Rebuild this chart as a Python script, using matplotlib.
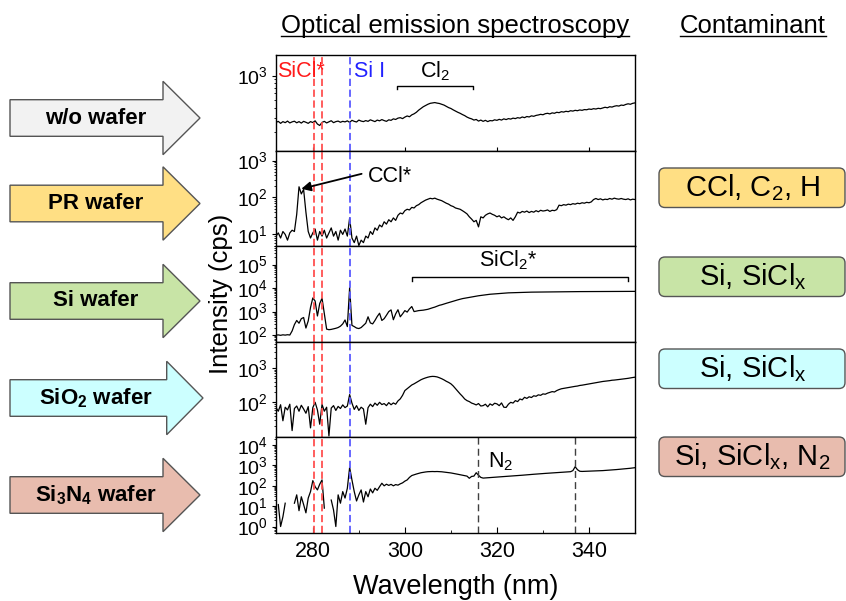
import numpy as np
import matplotlib
matplotlib.use("Agg")
import matplotlib.pyplot as plt
from matplotlib.patches import Polygon, FancyBboxPatch
from matplotlib.ticker import LogLocator, NullFormatter, FixedLocator, MultipleLocator

plt.rcParams['font.family'] = ['Liberation Sans', 'DejaVu Sans']
plt.rcParams['mathtext.fontset'] = 'custom'
plt.rcParams['mathtext.rm'] = 'Liberation Sans'
plt.rcParams['mathtext.it'] = 'Liberation Sans:italic'
plt.rcParams['mathtext.bf'] = 'Liberation Sans:bold'
plt.rcParams['mathtext.default'] = 'regular'

# wavelength grid (nm), 0.5 nm steps, 272 .. 350
wl = np.arange(272.0, 350.01, 0.5)

# intensities (cps), one row = 5 nm
no_wafer = [
    262, 270, 255, 268, 260, 272, 258, 266, 271, 259,
    268, 257, 270, 263, 255, 268, 261, 274, 250, 240,
    262, 270, 258, 266, 275, 260, 268, 272, 263, 270,
    266, 274, 262, 278, 270, 265, 280, 272, 268, 276,
    270, 282, 275, 268, 280, 274, 284, 276, 270, 282,
    278, 290, 285, 296, 300, 292, 305, 315, 308, 325,
    335, 350, 372, 390, 410, 425, 440, 452, 457, 462,
    455, 450, 440, 430, 415, 400, 390, 375, 362, 350,
    340, 328, 318, 305, 296, 290, 280, 285, 272, 280,
    270, 278, 268, 276, 274, 282, 278, 286, 280, 290,
    284, 292, 288, 296, 292, 300, 296, 306, 300, 310,
    306, 316, 312, 320, 324, 330, 326, 336, 340, 334,
    344, 340, 350, 346, 356, 352, 360, 356, 366, 362,
    370, 366, 374, 370, 378, 376, 384, 380, 388, 384,
    392, 388, 396, 404, 398, 410, 406, 416, 422, 418,
    430, 426, 438, 446, 440, 452, 458,
]

pr_wafer = [
    9, 11, 8, 12, 10, 7, 11, 13, 12, 35,
    195, 125, 165, 40, 12, 8, 11, 14, 7, 12,
    9, 13, 8, 11, 15, 9, 12, 7, 13, 10,
    14, 9, 28, 8, 6, 9, 5, 7, 6, 9,
    8, 12, 10, 15, 13, 18, 16, 22, 19, 25,
    22, 28, 24, 33, 38, 36, 44, 48, 46, 54,
    52, 60, 64, 72, 78, 85, 90, 95, 92, 96,
    90, 86, 82, 76, 70, 66, 60, 57, 52, 50,
    48, 44, 40, 36, 30, 26, 22, 24, 16, 30,
    28, 33, 36, 38, 35, 33, 30, 32, 28, 30,
    27, 25, 28, 24, 30, 40, 38, 42, 40, 43,
    39, 42, 40, 44, 41, 45, 43, 44, 46, 42,
    45, 44, 47, 62, 60, 64, 62, 66, 64, 68,
    66, 70, 68, 72, 70, 74, 72, 76, 88, 94,
    88, 92, 86, 90, 88, 94, 90, 96, 92, 90,
    94, 90, 88, 92, 86, 90, 88,
]

si_wafer = [
    100, 102, 98, 103, 100, 104, 101, 150, 280, 420,
    320, 500, 560, 200, 400, 1500, 3800, 2800, 650, 2200,
    3700, 800, 180, 170, 175, 185, 195, 210, 240, 300,
    440, 230, 10500, 260, 230, 200, 190, 210, 260, 320,
    600, 330, 300, 420, 620, 850, 420, 500, 700, 1000,
    1180, 450, 800, 1200, 600, 800, 1100, 950, 1300, 1640,
    1000, 1050, 1100, 1120, 1150, 1200, 1250, 1350, 1450, 1550,
    1700, 1850, 1950, 2100, 2250, 2400, 2550, 2750, 2950, 3150,
    3350, 3550, 3700, 3850, 4050, 4200, 4400, 4550, 4700, 4850,
    5000, 5150, 5300, 5450, 5550, 5700, 5800, 5900, 6000, 6100,
    6150, 6250, 6300, 6350, 6400, 6450, 6500, 6550, 6600, 6620,
    6650, 6700, 6720, 6750, 6780, 6800, 6830, 6850, 6870, 6880,
    6900, 6920, 6940, 6950, 6960, 6980, 7000, 7010, 7020, 7030,
    7040, 7050, 7060, 7070, 7080, 7090, 7100, 7100, 7110, 7120,
    7120, 7130, 7140, 7140, 7150, 7160, 7160, 7170, 7180, 7180,
    7190, 7190, 7200, 7200, 7210, 7210, 7220,
]

sio2_wafer = [
    70, 55, 85, 29, 72, 60, 88, 15, 66, 78,
    55, 82, 64, 48, 75, 18, 70, 100, 60, 23,
    87, 55, 72, 10.5, 68, 80, 58, 76, 66, 84,
    70, 78, 168, 95, 62, 80, 58, 72, 64, 23,
    70, 88, 75, 95, 82, 100, 86, 92, 80, 98,
    85, 96, 88, 110, 126, 160, 220, 250, 285, 320,
    346, 380, 420, 455, 487, 515, 540, 560, 570, 565,
    550, 520, 487, 450, 410, 380, 346, 300, 250, 210,
    176, 150, 125, 112, 105, 95, 90, 84, 92, 78,
    80, 88, 74, 90, 82, 94, 90, 80, 96, 72,
    71, 88, 100, 95, 112, 105, 125, 118, 140, 130,
    145, 138, 155, 150, 165, 160, 176, 172, 185, 195,
    205, 200, 220, 235, 248, 255, 262, 270, 278, 285,
    292, 298, 310, 316, 325, 332, 345, 352, 365, 375,
    387, 395, 405, 412, 420, 428, 440, 445, 455, 462,
    470, 478, 490, 500, 515, 528, 540,
]

nan = np.nan
si3n4_wafer = [
    nan, 12, 1, 3, 14, nan, 9.5, nan, 14, 36,
    6, 29, 12, 4.7, 25, 52, 180, 90, 63, 120,
    195, 8, nan, nan, 20, 6.5, 1, 36, 14, 52,
    25, 76, 810, 195, 52, 18, 36, 63, 16, 52,
    29, 70, 45, 76, 60, 91, 134, 100, 120, 105,
    118, 100, 115, 108, 125, 140, 170, 195, 260, 320,
    350, 380, 410, 440, 460, 480, 495, 500, 505, 500,
    505, 498, 490, 475, 460, 445, 430, 410, 390, 370,
    350, 330, 315, 300, 235, 290, 300, 440, 330, 260,
    240, 245, 250, 255, 260, 265, 270, 275, 280, 285,
    290, 295, 300, 305, 310, 318, 325, 332, 340, 348,
    355, 362, 370, 378, 385, 392, 400, 408, 415, 422,
    430, 436, 442, 448, 455, 462, 470, 480, 495, 560,
    870, 620, 520, 510, 515, 520, 525, 530, 535, 540,
    545, 550, 560, 570, 580, 590, 600, 615, 630, 645,
    660, 675, 690, 710, 730, 755, 780,
]

spectra = [no_wafer, pr_wafer, si_wafer, sio2_wafer, si3n4_wafer]
ylims = [(117, 1800), (4.8, 1860), (52, 6e5), (9.5, 5800), (0.48, 2.4e4)]
yticks = [[1e3], [1e1, 1e2, 1e3], [1e2, 1e3, 1e4, 1e5], [1e2, 1e3], [1e0, 1e1, 1e2, 1e3, 1e4]]

sicl_lines = [280.2, 282.0]
si_line = 288.0
n2_lines = [315.8, 337.0]

wafer_labels = ['w/o wafer', 'PR wafer', r'Si wafer', r'$\mathbf{SiO_2}$ wafer',
                r'$\mathbf{Si_3N_4}$ wafer']
wafer_colors = ['#F2F2F2', '#FFDF84', '#C8E4A6', '#CCFFFF', '#E8BCAE']
contaminants = [r'CCl, C$_2$, H', r'Si, SiCl$_x$', r'Si, SiCl$_x$', r'Si, SiCl$_x$, N$_2$']
contaminant_colors = wafer_colors[1:]

W, H = 846, 601
fig = plt.figure(figsize=(W / 100, H / 100), dpi=100)

# overlay in pixel units for the arrows / boxes / headings
ov = fig.add_axes([0, 0, 1, 1], zorder=-1)
ov.set_xlim(0, W)
ov.set_ylim(H, 0)
ov.axis('off')

left, right, top, panel_h = 276, 635, 55, 95.6
axes = []
for i in range(5):
    rect = [left / W, 1 - (top + (i + 1) * panel_h) / H, (right - left) / W, panel_h / H]
    ax = fig.add_axes(rect, sharex=axes[0] if axes else None)
    axes.append(ax)

for i, ax in enumerate(axes):
    ax.plot(wl, spectra[i], color='black', lw=0.9)
    ax.set_yscale('log')
    ax.set_ylim(*ylims[i])
    ax.yaxis.set_major_locator(FixedLocator(yticks[i]))
    ax.yaxis.set_minor_locator(LogLocator(base=10, subs=np.arange(2, 10), numticks=100))
    ax.yaxis.set_minor_formatter(NullFormatter())
    ax.tick_params(axis='y', which='major', direction='out', length=3, width=0.8,
                   labelsize=14, pad=3)
    ax.tick_params(axis='y', which='minor', direction='out', length=1.6, width=0.6)
    for sp in ax.spines.values():
        sp.set_linewidth(1.0)
    for x in sicl_lines:
        ax.axvline(x, color='#FF5050', lw=1.3, ls=(0, (4, 2)))
    ax.axvline(si_line, color='#5A5AFF', lw=1.3, ls=(0, (4, 2)))

axes[0].set_xlim(272, 350)
axes[0].set_xticks([280, 300, 320, 340])
axes[0].tick_params(axis='x', direction='in', length=3, labelbottom=False)
for ax in axes[1:4]:
    ax.tick_params(axis='x', which='both', bottom=False, labelbottom=False)
axes[4].xaxis.set_minor_locator(MultipleLocator(10))
axes[4].tick_params(axis='x', which='major', direction='in', length=4, labelsize=15.5, pad=6)
axes[4].tick_params(axis='x', which='minor', direction='in', length=2.5)
for x in n2_lines:
    axes[4].axvline(x, color='#404040', lw=1.0, ls=(0, (5, 3)))

# annotations
t0 = axes[0].get_xaxis_transform()
axes[0].text(272.3, 0.765, 'SiCl*', color='#FF1A1A', fontsize=15.5, transform=t0, va='baseline')
axes[0].text(288.9, 0.765, 'Si I', color='#2222FF', fontsize=15.5, transform=t0, va='baseline')
axes[0].text(306.5, 0.765, r'Cl$_2$', fontsize=15.5, transform=t0, va='baseline', ha='center')
axes[0].plot([298.2, 298.2, 314.8, 314.8], [0.64, 0.677, 0.677, 0.64], transform=t0,
             color='black', lw=1.0, clip_on=False)

t1 = axes[1].get_xaxis_transform()
axes[1].text(291.9, 0.67, 'CCl*', fontsize=15.5, transform=t1, va='baseline')
axes[1].annotate('', xy=(277.5, 0.60), xycoords=t1, xytext=(290.6, 0.757), textcoords=t1,
                 arrowprops=dict(arrowstyle='-|>', color='black', lw=1.3,
                                 mutation_scale=14, shrinkA=0, shrinkB=0))

t2 = axes[2].get_xaxis_transform()
axes[2].text(322.5, 0.785, r'SiCl$_2$*', fontsize=15.5, transform=t2, va='baseline', ha='center')
axes[2].plot([301.5, 301.5, 348.4, 348.4], [0.64, 0.674, 0.674, 0.64], transform=t2,
             color='black', lw=1.0)

t4 = axes[4].get_xaxis_transform()
axes[4].text(318.0, 0.69, r'N$_2$', fontsize=15.5, transform=t4, va='baseline')

fig.text(455.5 / W, 1 - 587 / H, 'Wavelength (nm)', ha='center', va='center', fontsize=19.5)
fig.text(221 / W, 1 - 294 / H, 'Intensity (cps)', ha='center', va='center', rotation=90,
         fontsize=18.5)

# headings with underline
heads = [ov.text(455, 33, 'Optical emission spectroscopy', ha='center', va='baseline', fontsize=18.5),
         ov.text(753, 33, 'Contaminant', ha='center', va='baseline', fontsize=18.5)]
fig.canvas.draw()
for t in heads:
    bb = t.get_window_extent()
    ov.plot([bb.x0, bb.x1], [36, 36], color='black', lw=1.0)

# wafer arrows on the left
arrow_y = [118, 203.5, 301, 398, 495]
for k, cy in enumerate(arrow_y):
    bx, tx = (166.7, 203) if k == 3 else (163, 200)
    pts = [(10, cy - 18.3), (bx, cy - 18.3), (bx, cy - 36.7), (tx, cy),
           (bx, cy + 36.7), (bx, cy + 18.3), (10, cy + 18.3)]
    ov.add_patch(Polygon(pts, closed=True, facecolor=wafer_colors[k], edgecolor='#555555', lw=1.0))
    ov.text(96, cy, wafer_labels[k], ha='center', va='center', fontsize=16, fontweight='bold')

# contaminant boxes on the right
box_y = [168, 257, 349, 437]
for k, y0 in enumerate(box_y):
    ov.add_patch(FancyBboxPatch((659, y0), 186, 39.5, boxstyle='round,pad=0,rounding_size=6',
                                facecolor=contaminant_colors[k], edgecolor='#555555', lw=1.0))
    ov.text(752.5, y0 + 20, contaminants[k], ha='center', va='center', fontsize=21)

fig.savefig('out.png', dpi=100)
